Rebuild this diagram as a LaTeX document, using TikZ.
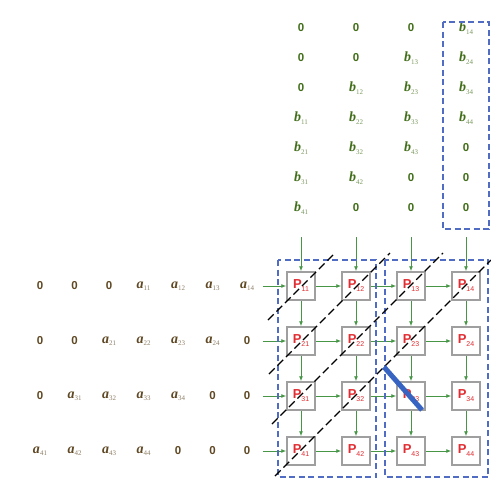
\documentclass[tikz,border=0pt]{standalone}
\usepackage{fontspec}
\setmainfont{Liberation Serif}
\setsansfont{Liberation Sans}
\usetikzlibrary{arrows.meta,positioning}

\definecolor{pered}{RGB}{225,45,50}
\definecolor{flowgreen}{RGB}{70,150,70}
\definecolor{acolor}{RGB}{95,72,35}
\definecolor{bcolor}{RGB}{65,110,25}
\definecolor{blockblue}{RGB}{80,108,195}
\definecolor{waveblue}{RGB}{55,100,195}

\newcommand{\zeroent}{{\sffamily\bfseries\fontsize{11.5}{11.5}\selectfont 0}}
\newcommand{\aent}[1]{{\bfseries\itshape\fontsize{14}{14}\selectfont a}{\color{acolor!70}\fontsize{7}{7}\selectfont\raisebox{-2.5pt}{#1}}}
\newcommand{\bent}[1]{{\bfseries\itshape\fontsize{14}{14}\selectfont b}{\color{bcolor!70}\fontsize{7}{7}\selectfont\raisebox{-2.5pt}{#1}}}
\newcommand{\pent}[1]{{\sffamily\bfseries\fontsize{13}{13}\selectfont P}{\sffamily\fontsize{7}{7}\selectfont\raisebox{-3pt}{#1}}}

\begin{document}
\begin{tikzpicture}[
    x=1pt, y=-1pt,
    node distance=25.5pt,
    pe/.style={rectangle, draw=gray!75, line width=1.5pt, fill=white, minimum size=28pt, inner sep=0pt, text=pered},
    entry/.style={inner sep=0pt, anchor=center},
    flow/.style={-{Latex[length=5pt,width=4pt]}, draw=flowgreen, line width=0.9pt},
    blockbox/.style={draw=blockblue, line width=1.6pt, dash pattern=on 6pt off 3.5pt},
    wave/.style={draw=black, line width=1.2pt, dash pattern=on 8pt off 4pt},
    cut/.style={draw=waveblue, line width=5pt}
]
\path[fill=white, use as bounding box] (0,0) rectangle (491,480);

% processing elements
\node[pe] (p11) at (301,286) {\pent{11}};
\node[pe, right=of p11] (p12) {\pent{12}};
\node[pe, right=of p12] (p13) {\pent{13}};
\node[pe, right=of p13] (p14) {\pent{14}};
\node[pe, below=of p11] (p21) {\pent{21}};
\node[pe, right=of p21] (p22) {\pent{22}};
\node[pe, right=of p22] (p23) {\pent{23}};
\node[pe, right=of p23] (p24) {\pent{24}};
\node[pe, below=of p21] (p31) {\pent{31}};
\node[pe, right=of p31] (p32) {\pent{32}};
\node[pe, right=of p32] (p33) {\pent{33}};
\node[pe, right=of p33] (p34) {\pent{34}};
\node[pe, below=of p31] (p41) {\pent{41}};
\node[pe, right=of p41] (p42) {\pent{42}};
\node[pe, right=of p42] (p43) {\pent{43}};
\node[pe, right=of p43] (p44) {\pent{44}};

% skewed rows of A
\foreach \txt [count=\c] in {\zeroent,\zeroent,\zeroent,\aent{11},\aent{12},\aent{13},\aent{14}}
  \node[entry, text=acolor] (ar1c\c) at ({5.5+34.5*\c},286) {\txt};
\foreach \txt [count=\c] in {\zeroent,\zeroent,\aent{21},\aent{22},\aent{23},\aent{24},\zeroent}
  \node[entry, text=acolor] (ar2c\c) at ({5.5+34.5*\c},341) {\txt};
\foreach \txt [count=\c] in {\zeroent,\aent{31},\aent{32},\aent{33},\aent{34},\zeroent,\zeroent}
  \node[entry, text=acolor] (ar3c\c) at ({5.5+34.5*\c},396) {\txt};
\foreach \txt [count=\c] in {\aent{41},\aent{42},\aent{43},\aent{44},\zeroent,\zeroent,\zeroent}
  \node[entry, text=acolor] (ar4c\c) at ({5.5+34.5*\c},451) {\txt};

% skewed columns of B
\foreach \txt [count=\r] in {\zeroent,\zeroent,\zeroent,\bent{11},\bent{21},\bent{31},\bent{41}}
  \node[entry, text=bcolor] (bc1r\r) at (301,{-2+30*\r}) {\txt};
\foreach \txt [count=\r] in {\zeroent,\zeroent,\bent{12},\bent{22},\bent{32},\bent{42},\zeroent}
  \node[entry, text=bcolor] (bc2r\r) at (356,{-2+30*\r}) {\txt};
\foreach \txt [count=\r] in {\zeroent,\bent{13},\bent{23},\bent{33},\bent{43},\zeroent,\zeroent}
  \node[entry, text=bcolor] (bc3r\r) at (411,{-2+30*\r}) {\txt};
\foreach \txt [count=\r] in {\bent{14},\bent{24},\bent{34},\bent{44},\zeroent,\zeroent,\zeroent}
  \node[entry, text=bcolor] (bc4r\r) at (466,{-2+30*\r}) {\txt};

% data flow
\foreach \i/\yy in {1/286,2/341,3/396,4/451} {
  \coordinate (west\i) at (263,\yy);
  \draw[flow] (west\i) -- (p\i1);
  \draw[flow] (p\i1) -- (p\i2);
  \draw[flow] (p\i2) -- (p\i3);
  \draw[flow] (p\i3) -- (p\i4);
}
\foreach \j/\xx in {1/301,2/356,3/411,4/466} {
  \coordinate (north\j) at (\xx,237);
  \draw[flow] (north\j) -- (p1\j);
  \draw[flow] (p1\j) -- (p2\j);
  \draw[flow] (p2\j) -- (p3\j);
  \draw[flow] (p3\j) -- (p4\j);
}

% blocks
\draw[blockbox] (278,260) rectangle (376,477);
\draw[blockbox] (385,260) rectangle (488,477);
\draw[blockbox] (443,22) rectangle (489,229);

% wavefronts
\draw[wave] (268,320) -- (334,254);
\draw[wave] (269,374) -- (390,253);
\draw[wave] (272,424) -- (443,253);
\draw[wave] (275,476) -- (491,260);
\draw[cut] (384,367) -- (422,410);
\end{tikzpicture}
\end{document}
